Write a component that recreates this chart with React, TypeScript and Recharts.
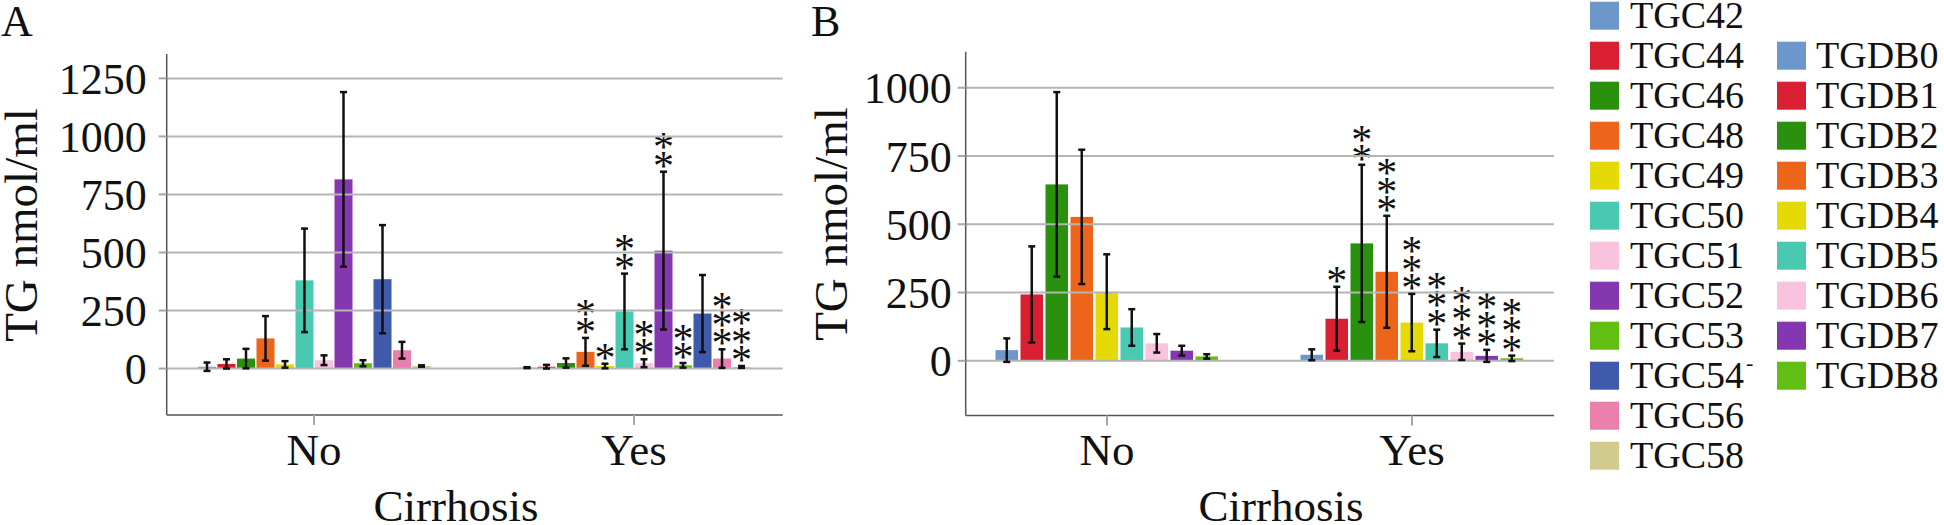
import React from 'react'
import { Bar, BarChart, ErrorBar, ReferenceLine, XAxis, YAxis } from 'recharts'

// Two grouped bar panels (TGC species, TGDB species) by cirrhosis status,
// mean ± SD with significance stars above the "Yes" group.

const groups = ['No', 'Yes']

const tgcNames = ['TGC42', 'TGC44', 'TGC46', 'TGC48', 'TGC49', 'TGC50', 'TGC51', 'TGC52', 'TGC53', 'TGC54', 'TGC56', 'TGC58']
const tgcColors = ['#6b97cb', '#d91f32', '#2a910f', '#ec651b', '#e5da06', '#48c9b0', '#f9c3e0', '#8537b0', '#62be13', '#3f5aab', '#ea7fae', '#d1cc8e']
const tgcNo = [8, 20, 43, 130, 18, 380, 36, 815, 23, 385, 79, 11]
const tgcNoSd = [18, 20, 42, 96, 14, 223, 21, 376, 13, 233, 36, 3]
const tgcYes = [4, 8, 24, 72, 11, 246, 23, 508, 14, 237, 43, 7]
const tgcYesSd = [2, 8, 20, 60, 10, 163, 17, 340, 10, 166, 40, 4]
const tgcYesStars = [0, 0, 0, 2, 1, 2, 2, 2, 2, 0, 3, 3]

const tgdbNames = ['TGDB0', 'TGDB1', 'TGDB2', 'TGDB3', 'TGDB4', 'TGDB5', 'TGDB6', 'TGDB7', 'TGDB8']
const tgdbColors = ['#6b97cb', '#d91f32', '#2a910f', '#ec651b', '#e5da06', '#48c9b0', '#f9c3e0', '#8537b0', '#62be13']
const tgdbNo = [39, 243, 646, 527, 253, 122, 64, 37, 16]
const tgdbNoSd = [43, 176, 338, 246, 137, 67, 34, 18, 8]
const tgdbYes = [22, 154, 430, 326, 140, 64, 33, 18, 9]
const tgdbYesSd = [20, 117, 288, 205, 105, 50, 30, 22, 10]
const tgdbYesStars = [0, 1, 2, 3, 3, 3, 3, 3, 3]

const ticksA = [0, 250, 500, 750, 1000, 1250]
const ticksB = [0, 250, 500, 750, 1000]

const serif = '"Liberation Serif", "Times New Roman", serif'
const gridGray = '#b5b5b5'
const axisGray = '#555555'

function buildRows(names: string[], no: number[], noSd: number[], yes: number[], yesSd: number[], yesStars: number[]) {
  return groups.map((g, gi) => {
    const row: Record<string, any> = { group: g }
    names.forEach((n, i) => {
      row[n] = gi === 0 ? no[i] : yes[i]
      row[`${n}_sd`] = gi === 0 ? noSd[i] : yesSd[i]
      row[`${n}_stars`] = gi === 0 ? 0 : yesStars[i]
    })
    return row
  })
}

const rowsA = buildRows(tgcNames, tgcNo, tgcNoSd, tgcYes, tgcYesSd, tgcYesStars)
const rowsB = buildRows(tgdbNames, tgdbNo, tgdbNoSd, tgdbYes, tgdbYesSd, tgdbYesStars)

// bar + its significance stars; the stars sit just above the error bar,
// using the px-per-unit of the rect recharts laid out
function starBar(name: string) {
  return (p: any) => {
    const x = Number(p.x), y = Number(p.y), w = Number(p.width), h = Number(p.height)
    const row = p.payload ?? {}
    const n = row[`${name}_stars`] || 0
    const v = row[name]
    const sd = row[`${name}_sd`] || 0
    const ppu = v ? Math.abs(h) / v : 0
    const errTop = y - sd * ppu
    const stars = []
    for (let k = 0; k < n; k++) {
      stars.push(
        <text key={k} x={x + w / 2} y={errTop + 8 - k * 18.3} textAnchor="middle" fontFamily={serif} fontSize={42} fill="#111">
          *
        </text>
      )
    }
    return (
      <g>
        <rect x={x} y={y} width={w} height={Math.max(h, 0)} fill={p.fill} />
        {stars}
      </g>
    )
  }
}

type PanelProps = {
  rows: Record<string, any>[]
  names: string[]
  colors: string[]
  ticks: number[]
  domain: [number, number]
  width: number
  top: number
  right: number
  yWidth: number
  xHeight: number
  tickMargin: number
  padding: { left: number; right: number }
  barSize: number
  barGap: number
}

function Panel(p: PanelProps) {
  return (
    <BarChart
      width={p.width}
      height={525}
      data={p.rows}
      margin={{ top: p.top, right: p.right, left: 0, bottom: 0 }}
      barSize={p.barSize}
      barGap={p.barGap}
    >
      <XAxis
        dataKey="group"
        height={p.xHeight}
        padding={p.padding}
        tickSize={10}
        tickMargin={8}
        tickLine={{ stroke: '#a6a6a6', strokeWidth: 2 }}
        axisLine={{ stroke: axisGray, strokeWidth: 1.5 }}
        tick={{ fill: '#111', fontSize: 45, fontFamily: serif }}
      />
      <YAxis
        type="number"
        domain={p.domain}
        ticks={p.ticks}
        width={p.yWidth}
        tickSize={8}
        tickMargin={p.tickMargin}
        tickLine={{ stroke: '#a6a6a6', strokeWidth: 2 }}
        axisLine={{ stroke: axisGray, strokeWidth: 1.5 }}
        tick={{ fill: '#111', fontSize: 44, fontFamily: serif }}
        allowDataOverflow
      />
      {/* gridlines only at the tick values */}
      {p.ticks.map((t) => (
        <ReferenceLine key={`g${t}`} y={t} stroke={gridGray} strokeWidth={2} />
      ))}
      {p.names.map((n, i) => (
        <Bar key={n} dataKey={n} fill={p.colors[i]} isAnimationActive={false} shape={starBar(n)}>
          <ErrorBar dataKey={`${n}_sd`} width={3.5} strokeWidth={2.5} stroke="#111" direction="y" />
        </Bar>
      ))}
    </BarChart>
  )
}

function Legend() {
  const items: React.ReactNode[] = []
  tgcNames.forEach((n, i) => {
    const top = 1.7 + 40 * i
    items.push(
      <g key={n}>
        <rect x={1590} y={top} width={29} height={28} fill={tgcColors[i]} />
        <text x={1630} y={top + 26.6} fontFamily={serif} fontSize={38} fill="#111">{n}</text>
      </g>
    )
  })
  tgdbNames.forEach((n, i) => {
    const top = 1.7 + 40 * (i + 1)
    items.push(
      <g key={n}>
        <rect x={1777} y={top} width={29} height={28} fill={tgdbColors[i]} />
        <text x={1816} y={top + 26.6} fontFamily={serif} fontSize={38} fill="#111">{n}</text>
      </g>
    )
  })
  return <g>{items}</g>
}

export default function App() {
  return (
    <div style={{ position: 'absolute', left: 0, top: 0, width: 1944, height: 525, background: '#fff', overflow: 'hidden' }}>
      <div style={{ position: 'absolute', left: 0, top: 0 }}>
        <Panel
          rows={rowsA}
          names={tgcNames}
          colors={tgcColors}
          ticks={ticksA}
          domain={[-200, 1355]}
          width={790}
          top={54}
          right={7.3}
          yWidth={166.7}
          xHeight={110}
          tickMargin={12}
          padding={{ left: -12.7, right: -11.3 }}
          barSize={18}
          barGap={1.5}
        />
      </div>
      <div style={{ position: 'absolute', left: 800, top: 0 }}>
        <Panel
          rows={rowsB}
          names={tgdbNames}
          colors={tgdbColors}
          ticks={ticksB}
          domain={[-200, 1132]}
          width={760}
          top={51.7}
          right={6}
          yWidth={165.7}
          xHeight={109.6}
          tickMargin={6}
          padding={{ left: -11.2, right: -10.5 }}
          barSize={22.5}
          barGap={2.5}
        />
      </div>
      <svg width={1944} height={525} style={{ position: 'absolute', left: 0, top: 0, pointerEvents: 'none' }}>
        {/* the reference panels are open at the top: mask the stray top edge */}
        <rect x={168} y={50} width={620} height={7.5} fill="#fff" />
        <rect x={967} y={47.7} width={594} height={7.5} fill="#fff" />
        <text x={1} y={36} fontFamily={serif} fontSize={44} fill="#111">A</text>
        <text x={811} y={36} fontFamily={serif} fontSize={44} fill="#111">B</text>
        <text transform="translate(37,225) rotate(-90)" textAnchor="middle" fontFamily={serif} fontSize={47} fill="#111">TG nmol/ml</text>
        <text transform="translate(847,224) rotate(-90)" textAnchor="middle" fontFamily={serif} fontSize={47} fill="#111">TG nmol/ml</text>
        <text x={456} y={521} textAnchor="middle" fontFamily={serif} fontSize={45} fill="#111">Cirrhosis</text>
        <text x={1281} y={521} textAnchor="middle" fontFamily={serif} fontSize={45} fill="#111">Cirrhosis</text>
        <Legend />
        <text x={1746} y={370} fontFamily={serif} fontSize={22} fill="#111">-</text>
      </svg>
    </div>
  )
}
